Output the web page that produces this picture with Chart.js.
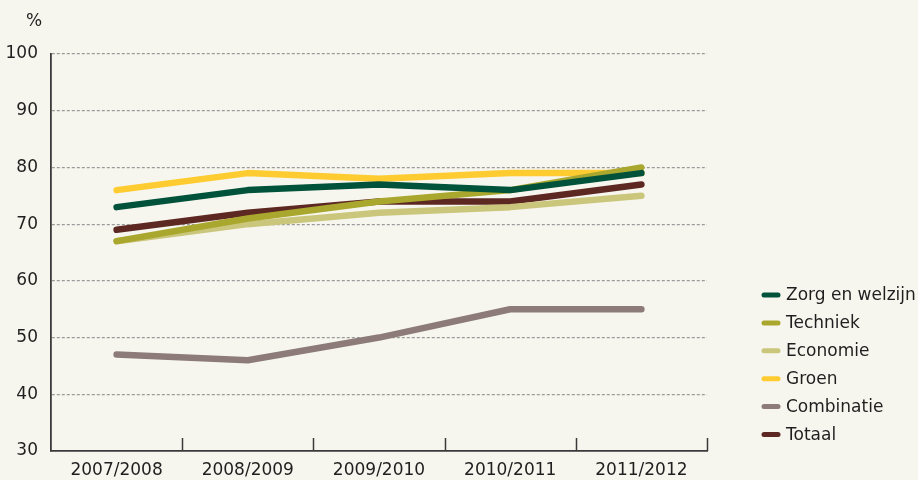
<!DOCTYPE html>
<html lang="nl">
<head>
    <meta charset="UTF-8">
    <title>Percentage per sector</title>
    <script src="https://cdn.jsdelivr.net/npm/chart.js"></script>
    <style>
        html, body { margin: 0; padding: 0; background: #f7f6ee; }
        #wrap { width: 918px; height: 480px; position: relative; }
    </style>
</head>
<body>
    <div id="wrap"><canvas id="sectorChart"></canvas></div>

    <script>
        // Schooljaren en percentages per sector
        const years = ['2007/2008', '2008/2009', '2009/2010', '2010/2011', '2011/2012'];
        const sectors = ['Zorg en welzijn', 'Techniek', 'Economie', 'Groen', 'Combinatie', 'Totaal'];
        const zorg = [73, 76, 77, 76, 79];
        const techniek = [67, 71, 74, 76, 80];
        const economie = [67, 70, 72, 73, 75];
        const groen = [76, 79, 78, 79, 79];
        const combinatie = [47, 46, 50, 55, 55];
        const totaal = [69, 72, 74, 74, 77];
        const yTicks = [30, 40, 50, 60, 70, 80, 90, 100];

        const colors = ['#00523a', '#a9a72d', '#cac67b', '#fecb30', '#8c7b79', '#5d2822'];
        const series = [zorg, techniek, economie, groen, combinatie, totaal];

        const fontFamily = '"DejaVu Sans", sans-serif';
        const textColor = '#1f1f1f';
        const axisColor = '#3a3a3a';

        // tick marks pointing up from the x axis, between the categories
        const upTicks = {
            id: 'upTicks',
            afterDraw(chart) {
                const x = chart.scales.x;
                const ctx = chart.ctx;
                const half = (x.getPixelForValue(1) - x.getPixelForValue(0)) / 2;
                ctx.save();
                ctx.strokeStyle = axisColor;
                ctx.lineWidth = 1.5;
                ctx.beginPath();
                for (let i = 0; i < years.length; i++) {
                    const px = Math.round(x.getPixelForValue(i) + half) + 0.5;
                    ctx.moveTo(px, x.top);
                    ctx.lineTo(px, x.top - 13);
                }
                ctx.stroke();
                // unit above the y axis
                ctx.fillStyle = textColor;
                ctx.font = '17px ' + fontFamily;
                ctx.textAlign = 'center';
                ctx.textBaseline = 'middle';
                ctx.fillText('%', 34, 22);
                ctx.restore();
            }
        };

        // legend at the lower right
        const sideLegend = {
            id: 'sideLegend',
            afterDraw(chart) {
                const ctx = chart.ctx;
                ctx.save();
                ctx.font = '17px ' + fontFamily;
                ctx.textBaseline = 'middle';
                chart.data.datasets.forEach((ds, i) => {
                    const y = 295 + i * 27.9;
                    ctx.strokeStyle = ds.borderColor;
                    ctx.lineWidth = 5;
                    ctx.lineCap = 'round';
                    ctx.beginPath();
                    ctx.moveTo(764, y);
                    ctx.lineTo(778, y);
                    ctx.stroke();
                    ctx.fillStyle = textColor;
                    ctx.fillText(ds.label, 786, y + 1);
                });
                ctx.restore();
            }
        };

        const ctx = document.getElementById('sectorChart').getContext('2d');
        new Chart(ctx, {
            type: 'line',
            data: {
                labels: years,
                datasets: sectors.map((name, i) => ({
                    label: name,
                    data: series[i],
                    borderColor: colors[i],
                    backgroundColor: colors[i],
                    borderWidth: 6.5,
                    borderCapStyle: 'round',
                    borderJoinStyle: 'round',
                    pointRadius: 0,
                    tension: 0,
                    fill: false
                }))
            },
            options: {
                responsive: true,
                maintainAspectRatio: false,
                animation: false,
                layout: { padding: { top: 54, right: 211, left: 0, bottom: 0 } },
                plugins: {
                    legend: { display: false },
                    tooltip: { enabled: false }
                },
                scales: {
                    x: {
                        offset: true,
                        border: { display: true, color: axisColor, width: 1.8 },
                        grid: { display: false, drawTicks: false },
                        ticks: {
                            color: textColor,
                            font: { family: fontFamily, size: 17 },
                            padding: 9,
                            maxRotation: 0
                        },
                        afterFit(scale) { scale.height = 29; }
                    },
                    y: {
                        min: 30,
                        max: 100,
                        afterBuildTicks(scale) {
                            scale.ticks = yTicks.map(v => ({ value: v }));
                        },
                        border: { display: true, color: axisColor, width: 1.8, dash: [3, 2] },
                        grid: {
                            color: (c) => c.tick && c.tick.value === 30 ? 'rgba(0,0,0,0)' : '#9a9a9a',
                            lineWidth: 1.2,
                            drawTicks: false
                        },
                        ticks: {
                            color: textColor,
                            font: { family: fontFamily, size: 17 },
                            padding: 13
                        },
                        afterFit(scale) { scale.width = 51; }
                    }
                }
            },
            plugins: [upTicks, sideLegend]
        });
    </script>
</body>
</html>
